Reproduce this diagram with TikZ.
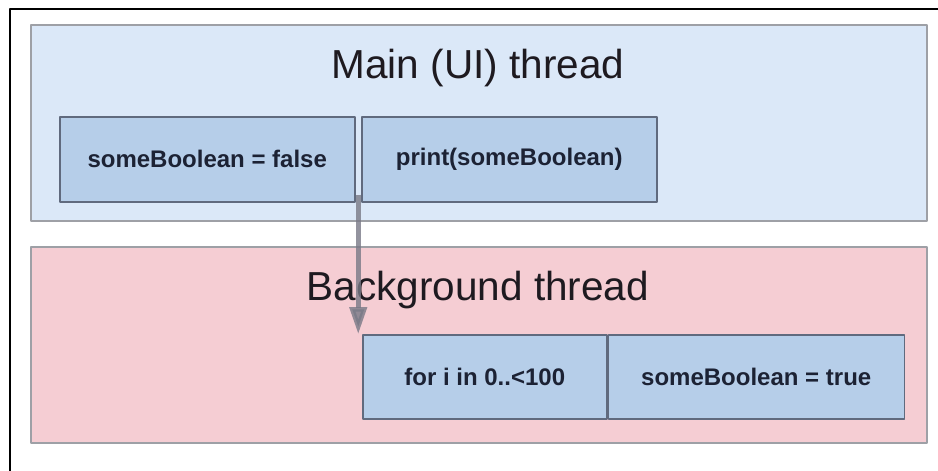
\documentclass[tikz,border=0pt]{standalone}
\usepackage{fontspec}
\setmainfont{Liberation Sans}
\usetikzlibrary{arrows.meta,calc}
\usetikzlibrary{positioning}
\definecolor{uiblue}{RGB}{219,232,248}
\definecolor{bgpink}{RGB}{245,205,211}
\definecolor{opblue}{RGB}{182,206,233}
\definecolor{opline}{RGB}{96,106,126}
\definecolor{lanegray}{RGB}{158,160,166}
\definecolor{optext}{RGB}{28,34,52}
\definecolor{ttext}{RGB}{30,26,32}
\tikzset{lane/.style={draw=lanegray,line width=1.5pt,fill=#1,anchor=north west,inner sep=0pt,minimum width=896pt,minimum height=196pt},
  lanetitle/.style={text=ttext,font=\fontsize{40.5}{45}\selectfont},
  op/.style={draw=opline,line width=1.5pt,fill=opblue,anchor=north west,inner sep=0pt,minimum height=85pt,text=optext,font=\bfseries\fontsize{24}{28}\selectfont}}

\begin{document}
\begin{tikzpicture}[x=1pt,y=-1pt,>=Stealth,line join=round]
\useasboundingbox (0,0) rectangle (938,471);
\fill[white] (0,0) rectangle (938,471);
\draw[line width=2pt] (10,471) -- (10,9) -- (938,9);
% --- thread lanes
\node[lane=uiblue] (mainlane) at (30,24) {};
\node[lane=bgpink] (bglane) at (30,246) {};
\node[lanetitle] (maintitle) at (478,68) {Main (UI) thread};
\node[lanetitle] (bgtitle) at (478,290) {Background thread};
% --- operations
\node[op,minimum width=295pt] (setfalse) at (59,116) {someBoolean = false};
\node[op,minimum width=295pt] (printval) at (361,116) {print(someBoolean)};
\node[op,minimum width=244pt,minimum height=84pt] (loop) at (362,334) {for i in 0..<100};
\node[op,minimum width=296pt,minimum height=84pt] (settrue) at (loop.north east) {someBoolean = true};
% --- hand-over arrow
\coordinate (gap) at ($(setfalse.south east)!0.5!(printval.south west)+(0,-8)$);
\coordinate (tip) at (gap |- loop.north);
\draw[-{Triangle[length=27pt,width=17pt]},line width=4.5pt,draw=gray!95!blue,opacity=0.8] (gap) -- (tip);
\end{tikzpicture}
\end{document}
